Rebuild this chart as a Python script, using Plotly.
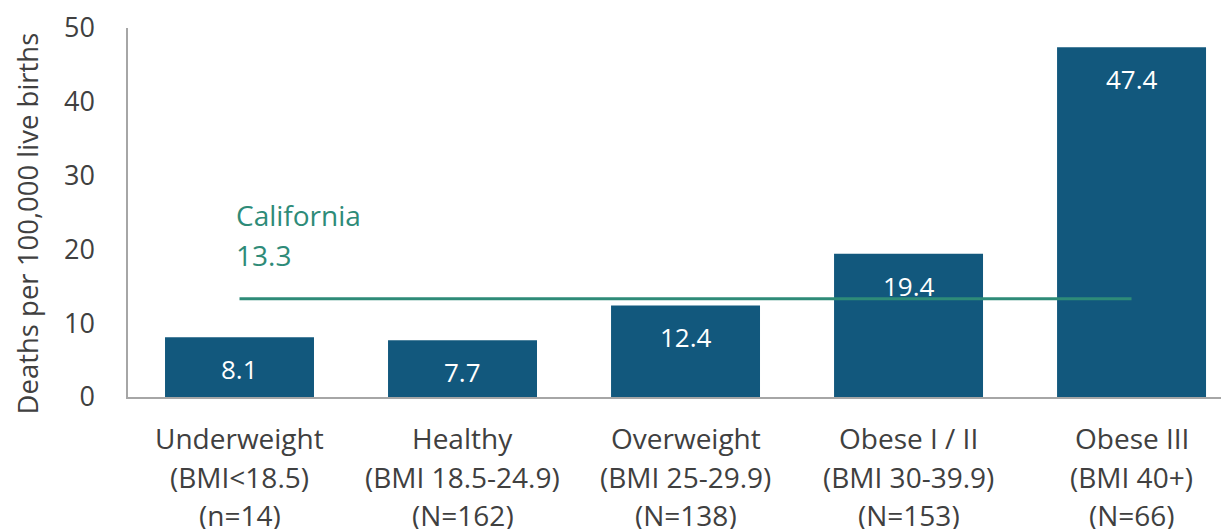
import plotly.graph_objects as go

cat_names = ["Underweight", "Healthy", "Overweight", "Obese I / II", "Obese III"]
cat_bmi = ["(BMI<18.5)", "(BMI 18.5-24.9)", "(BMI 25-29.9)", "(BMI 30-39.9)", "(BMI 40+)"]
cat_n = ["(n=14)", "(N=162)", "(N=138)", "(N=153)", "(N=66)"]
values = [8.1, 7.7, 12.4, 19.4, 47.4]
california_value = 13.3
y_ticks = [0, 10, 20, 30, 40, 50]
y_title = "Deaths per 100,000 live births"

BAR = "#12587D"
TEAL = "#2E8B78"
GRAY = "#404040"
FONT = "Open Sans"

xidx = list(range(len(cat_names)))

fig = go.Figure()
fig.add_trace(go.Bar(x=xidx, y=values, marker=dict(color=BAR, line=dict(width=0)),
                     width=0.668, hoverinfo="skip"))
fig.add_trace(go.Scatter(x=[xidx[0], xidx[-1]], y=[california_value, california_value],
                         mode="lines", line=dict(color=TEAL, width=3), hoverinfo="skip"))

for i, v in zip(xidx, values):
    fig.add_annotation(x=i, y=v, text=f"{v:.1f}", showarrow=False, yshift=-32,
                       font=dict(family=FONT, size=26, color="white"))

# category labels (three lines each)
for i in xidx:
    for k, lines in enumerate([cat_names, cat_bmi, cat_n]):
        fig.add_annotation(x=i, y=0, text=lines[i], showarrow=False, yanchor="middle",
                           yshift=-(41 + k * 38.5), font=dict(family=FONT, size=28, color=GRAY))

fig.add_annotation(x=xidx[0], y=california_value, text="California", showarrow=False,
                   xanchor="left", xshift=-6, yshift=84, font=dict(family=FONT, size=28, color=TEAL))
fig.add_annotation(x=xidx[0], y=california_value, text=f"{california_value}", showarrow=False,
                   xanchor="left", xshift=-6, yshift=44, font=dict(family=FONT, size=28, color=TEAL))

# y-axis title (as annotation so it can sit slightly below the plot centre, like the reference)
fig.add_annotation(xref="paper", yref="paper", x=0, y=0.5, text=y_title, textangle=-90,
                   showarrow=False, xanchor="center", yanchor="middle", xshift=-101, yshift=-11,
                   font=dict(family=FONT, size=27.5, color=GRAY))

# page body has an 8px margin; size the figure so the plot lands where the reference's does
fig.update_layout(
    width=1221, height=521,
    margin=dict(l=120, r=0, t=20, b=132, autoexpand=False),
    plot_bgcolor="white", paper_bgcolor="white",
    showlegend=False,
    font=dict(family=FONT, size=26, color=GRAY),
    xaxis=dict(range=[-0.5, 4.437], tickmode="array", tickvals=xidx, showticklabels=False,
               showline=True, linecolor="#A6A6A6", linewidth=1.5, showgrid=False,
               ticks="", zeroline=False, automargin=False),
    yaxis=dict(range=[0, 50], tickmode="array", tickvals=y_ticks,
               showline=True, linecolor="#A6A6A6", linewidth=1.5, showgrid=False,
               ticks="", ticklabelstandoff=26, zeroline=False, automargin=False,
               tickfont=dict(family=FONT, size=27, color=GRAY)),
)

fig.write_html("out.html")
